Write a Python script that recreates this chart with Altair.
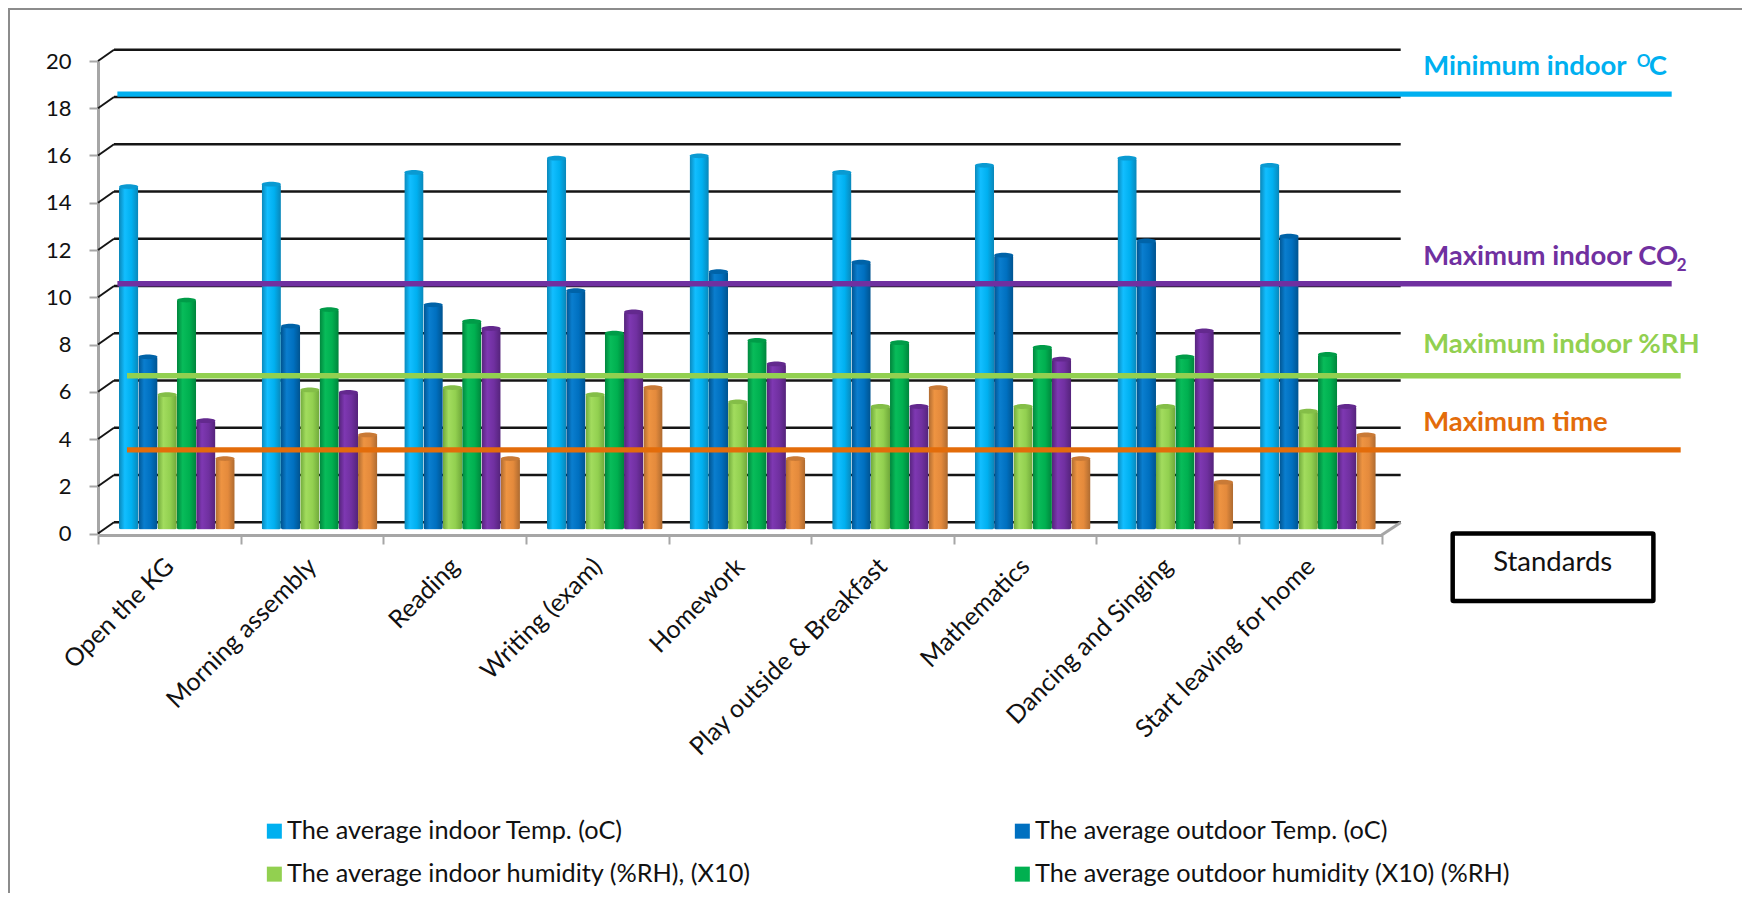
import altair as alt
import pandas as pd

categories = ["Open the KG", "Morning assembly", "Reading", "Writing (exam)", "Homework",
              "Play outside & Breakfast", "Mathematics", "Dancing and Singing", "Start leaving for home"]
series_names = ["The average indoor Temp. (oC)", "The average outdoor Temp. (oC)",
                "The average indoor humidity (%RH), (X10)", "The average outdoor humidity (X10) (%RH)",
                "The average indoor CO2", "The activity time"]
indoor_temp = [14.5, 14.6, 15.1, 15.7, 15.8, 15.1, 15.4, 15.7, 15.4]
outdoor_temp = [7.3, 8.6, 9.5, 10.1, 10.9, 11.3, 11.6, 12.2, 12.4]
indoor_rh = [5.7, 5.9, 6.0, 5.7, 5.4, 5.2, 5.2, 5.2, 5.0]
outdoor_rh = [9.7, 9.3, 8.8, 8.3, 8.0, 7.9, 7.7, 7.3, 7.4]
indoor_co2 = [4.6, 5.8, 8.5, 9.2, 7.0, 5.2, 7.2, 8.4, 5.2]
activity_time = [3, 4, 3, 6, 3, 6, 3, 2, 4]
all_series = [indoor_temp, outdoor_temp, indoor_rh, outdoor_rh, indoor_co2, activity_time]
y_ticks = list(range(0, 21, 2))
std_values = [18.6, 10.57, 6.68, 3.54]
legend_values = [series_names[0], series_names[2], series_names[1], series_names[3]]

base_colors = ["#00B0F0", "#0070C0", "#92D050", "#00B050", "#7030A0", "#E48A3C"]
edge_colors = ["#0A86B8", "#00538F", "#6FA83A", "#00843C", "#54237A", "#AD6A30"]
bright_colors = ["#12BEFF", "#0A7ECF", "#A2DC5E", "#08BC5A", "#7E38B2", "#EE9442"]
cap_colors = ["#0A9AD2", "#0063A8", "#84BE48", "#009C48", "#63298E", "#C97A36"]
std_colors = ["#00B0F0", "#7030A0", "#92D050", "#E36C0A"]

FONT = "Lato"
y_scale = alt.Scale(domain=[0, 20], nice=False, zero=False)
bar_y_scale = alt.Scale(domain=[0, 20], nice=False, zero=False, range=[468.5, -4.5])
xq_scale = alt.Scale(domain=[0, 9], nice=False, zero=False)
band_scale = alt.Scale(domain=categories, paddingInner=0, paddingOuter=0)
offset_scale = alt.Scale(domain=series_names, range=[21, 136.7], paddingInner=0, paddingOuter=0)
NOY = alt.Y("v:Q", scale=y_scale, axis=None)
BARY = alt.Y("v:Q", scale=bar_y_scale, axis=None)
XQ = alt.X("a:Q", scale=xq_scale, axis=None)

# outer border (first layer carries the y axis)
border_top = alt.Chart(pd.DataFrame({"v": [20], "a": [0], "b": [9]})).mark_rule(
    color="#8C8C8C", strokeWidth=2, xOffset=-90, x2Offset=400, yOffset=-52).encode(
    x=XQ, x2="b:Q",
    y=alt.Y("v:Q", scale=y_scale, title=None, axis=alt.Axis(
        values=y_ticks, tickSize=9, tickWidth=2, tickColor="#A6A6A6", domainColor="#A6A6A6", domainWidth=3,
        labelFont=FONT, labelFontSize=22, labelColor="#111", labelPadding=18, grid=False)))
border_left = alt.Chart(pd.DataFrame({"v": [20], "w": [0], "a": [0]})).mark_rule(
    color="#8C8C8C", strokeWidth=2, xOffset=-89, yOffset=-53, y2Offset=400).encode(x=XQ, y=NOY, y2="w:Q")

# back wall
grid_df = pd.DataFrame({"v": y_ticks, "a": 0, "b": 9})
grid = alt.Chart(grid_df).mark_rule(color="#151515", strokeWidth=2.6, yOffset=-11.2, xOffset=16, x2Offset=19).encode(
    x=XQ, x2="b:Q", y=NOY)
diag = alt.Chart(grid_df).mark_rule(color="#151515", strokeWidth=2, x2Offset=16, y2Offset=-11.2).encode(
    x=XQ, x2="a:Q", y=NOY, y2="v:Q")
floor_df = pd.DataFrame({"v": [0], "a": [9]})
floor = alt.Chart(floor_df).mark_rule(color="#A6A6A6", strokeWidth=3, x2Offset=19, y2Offset=-11, yOffset=1.5).encode(
    x=XQ, x2="a:Q", y=NOY, y2="v:Q")

# bars
bar_layers = []
for k, name in enumerate(series_names):
    d = pd.DataFrame({"c": categories, "v": all_series[k], "s": name})
    grad = alt.LinearGradient(gradient="linear", x1=0, x2=1, y1=0, y2=0, stops=[
        alt.GradientStop(offset=0, color=edge_colors[k]),
        alt.GradientStop(offset=0.3, color=bright_colors[k]),
        alt.GradientStop(offset=0.65, color=base_colors[k]),
        alt.GradientStop(offset=1, color=edge_colors[k])])
    x_enc = alt.X("c:N", scale=band_scale, sort=categories, title=None, axis=alt.Axis(
        tickBand="extent", tickSize=9, tickWidth=2, tickColor="#A6A6A6", domainColor="#A6A6A6", domainWidth=3,
        offset=1.5, labelAngle=-45, labelAlign="right", labelBaseline="middle", labelPadding=18,
        labelFont=FONT, labelFontSize=25, labelColor="#111", labelOverlap=False, labelLimit=0) if k == 0 else None)
    off = alt.XOffset("s:N", scale=offset_scale, sort=series_names)
    bar = alt.Chart(d).mark_bar(color=grad, cornerRadius=2).encode(x=x_enc, xOffset=off, y=BARY)
    cap = alt.Chart(d).mark_point(shape="M -1 0 A 1 0.25 0 1 1 1 0 A 1 0.25 0 1 1 -1 0 Z", filled=True, size=369,
                                  color=cap_colors[k], opacity=1).encode(
        x=alt.X("c:N", scale=band_scale, sort=categories, axis=None), xOffset=off, y=BARY)
    bar_layers += [bar, cap]

# standards lines
std_offsets = [(19.4, 290), (19.4, 290), (29, 299), (29, 299)]
std_layers = []
for k in range(4):
    d = pd.DataFrame({"v": [std_values[k]], "a": [0], "b": [9]})
    std_layers.append(alt.Chart(d).mark_rule(color=std_colors[k], strokeWidth=5.4,
                                             xOffset=std_offsets[k][0], x2Offset=std_offsets[k][1]).encode(
        x=XQ, x2="b:Q", y=NOY))

# standards text
def label(txt, color, dx, dy, size=27.5, weight="bold", align="left"):
    d = pd.DataFrame({"v": [0], "a": [9], "t": [txt]})
    return alt.Chart(d).mark_text(color=color, font=FONT, fontSize=size, fontWeight=weight, align=align,
                                  baseline="alphabetic", dx=dx, dy=dy).encode(x=XQ, y=NOY, text="t:N")

texts = [
    label("Minimum indoor", std_colors[0], 41.5, 75.2 - 533.5),
    label("O", std_colors[0], 255, 67 - 533.5, size=17),
    label("C", std_colors[0], 267, 75.2 - 533.5),
    label("Maximum indoor CO", std_colors[1], 41.5, 264.6 - 533.5),
    label("2", std_colors[1], 295, 271 - 533.5, size=17),
    label("Maximum indoor %RH", std_colors[2], 41.5, 353.4 - 533.5),
    label("Maximum time", std_colors[3], 41.5, 431 - 533.5),
    label("Standards", "#111111", 171, 570.8 - 533.5, size=27.5, weight="normal", align="center"),
]
box_df = pd.DataFrame({"v": [0], "w": [0], "a": [9], "b": [9]})
box = alt.Chart(box_df).mark_rect(fill="white", stroke="black", strokeWidth=4.5, cornerRadius=1,
                                  xOffset=71, x2Offset=271.7, yOffset=0, y2Offset=67.5).encode(
    x=XQ, x2="b:Q", y=NOY, y2="w:Q")

# legend
legend_df = pd.DataFrame({"s": series_names, "v": [0] * 6})
legend_layer = alt.Chart(legend_df).mark_square(size=0, opacity=0).encode(
    y=NOY,
    color=alt.Color("s:N", scale=alt.Scale(domain=series_names, range=base_colors), sort=series_names,
                    legend=alt.Legend(orient="none", legendX=163.7, legendY=757.5, columns=2, title=None,
                                      values=legend_values, symbolType="square", symbolSize=225, symbolOpacity=1,
                                      symbolStrokeWidth=0, labelFont=FONT, labelFontSize=25.3, labelColor="#111",
                                      labelOffset=0, columnPadding=258, rowPadding=17, labelLimit=0, padding=0)))

chart = alt.layer(border_top, border_left, grid, diag, floor, *bar_layers, *std_layers, box, *texts, legend_layer
                  ).resolve_scale(x="independent", y="independent").resolve_axis(y="independent").properties(
    width=1283.7, height=472.5,
    padding={"left": 90, "top": 53, "right": 360, "bottom": 359},
    autosize=alt.AutoSizeParams(type="none"),
    background="white",
).configure_view(stroke=None)

chart.save("out.html", embed_options={"renderer": "svg", "actions": False})
